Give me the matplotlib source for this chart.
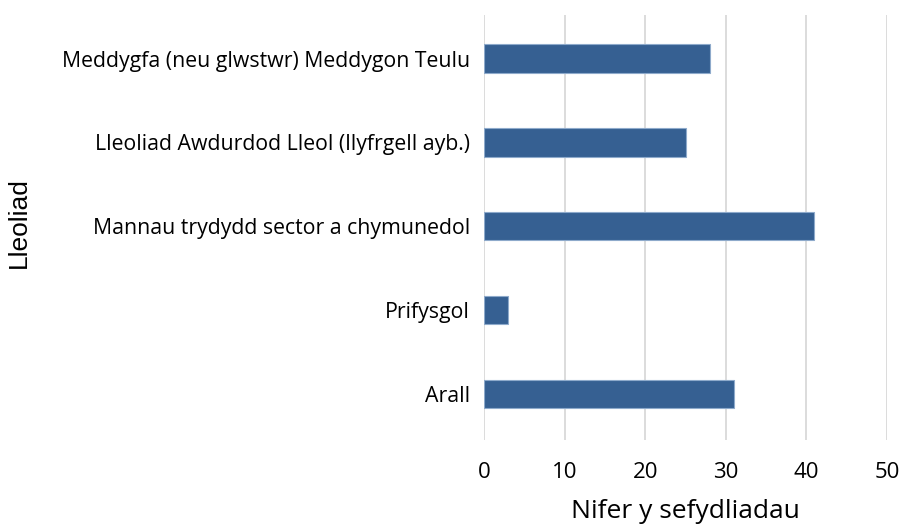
import matplotlib.pyplot as plt

# data
categories = ["Meddygfa (neu glwstwr) Meddygon Teulu",
              "Lleoliad Awdurdod Lleol (llyfrgell ayb.)",
              "Mannau trydydd sector a chymunedol",
              "Prifysgol",
              "Arall"]
values = [28, 25, 41, 3, 31]
xticks = [0, 10, 20, 30, 40, 50]

fig = plt.figure(figsize=(9.02, 5.26), dpi=100)
ax = fig.add_axes([0.5366, 0.1635, 0.4468, 0.808])

ypos = list(range(len(categories)))[::-1]
ax.barh(ypos, values, height=0.34, color="#366092", edgecolor="#8eaacb", linewidth=0.8, zorder=3)

ax.set_xlim(0, 50)
ax.set_ylim(-0.55, 4.52)
ax.set_xticks(xticks)
ax.set_xticklabels([str(t) for t in xticks], fontfamily="Open Sans", fontsize=16)
ax.set_yticks(ypos)
ax.set_yticklabels(categories, fontfamily="Open Sans", fontsize=15.3)
ax.tick_params(axis="both", length=0)
ax.tick_params(axis="x", pad=16)
ax.tick_params(axis="y", pad=10)
ax.grid(axis="x", color="#d9d9d9", linewidth=1.3, zorder=0)
for s in ax.spines.values():
    s.set_visible(False)

ax.set_xlabel("Nifer y sefydliadau", fontfamily="Open Sans", fontsize=19, labelpad=11.5)
fig.text(0.021, 0.576, "Lleoliad", rotation=90, fontfamily="Liberation Sans", fontsize=19,
         ha="center", va="center")

fig.savefig("out.png", dpi=100)
